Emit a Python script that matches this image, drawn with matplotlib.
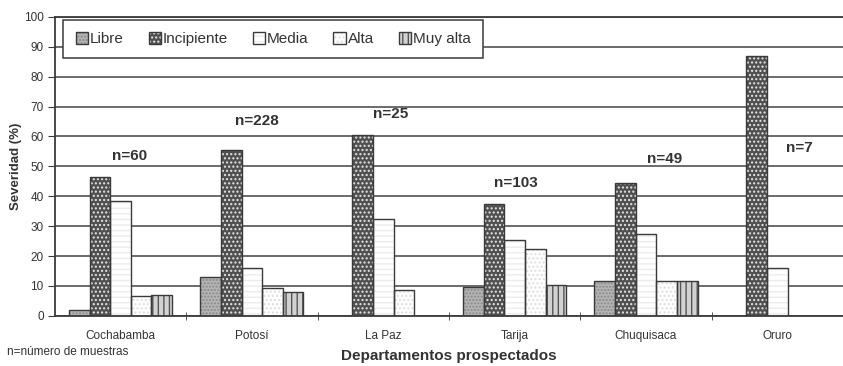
import matplotlib
matplotlib.use("Agg")
import matplotlib.pyplot as plt
import matplotlib.patches as mpatches
from matplotlib.legend_handler import HandlerPatch
import numpy as np

plt.rcParams['font.family'] = ['Liberation Sans', 'DejaVu Sans']

departamentos = ['Cochabamba', 'Potosí', 'La Paz', 'Tarija', 'Chuquisaca', 'Oruro']
series = ['Libre', 'Incipiente', 'Media', 'Alta', 'Muy alta']

libre = [2, 13, 0, 9.5, 11.8, 0]
incipiente = [46.5, 55.3, 60.5, 37.5, 44.3, 87]
media = [38.3, 16, 32.3, 25.3, 27.5, 16]
alta = [6.7, 9.2, 8.7, 22.5, 11.8, 0]
muy_alta = [6.9, 8, 0, 10.2, 11.8, 0]

muestras = [60, 228, 25, 103, 49, 7]
muestras_y = [53.5, 65, 67.5, 44.5, 52.5, 56]
muestras_dx = [0.07, 0.04, 0.06, 0.01, 0.14, 0.17]

valores = [libre, incipiente, media, alta, muy_alta]
# facecolor, hatch, hatch colour for each severity class
estilos = [
    ('#b4b4b4', '.....', '#8a8a8a'),
    ('#505050', '....', '#e6e6e6'),
    ('#ffffff', '---', '#ececec'),
    ('#ffffff', '....', '#dedede'),
    ('#d2d2d2', '|||', '#555555'),
]
linea = '#3a3a3a'
texto = '#333333'


class OutlinedHandler(HandlerPatch):
    # hatched square plus a dark outline, like the bars
    def create_artists(self, legend, orig_handle, xdescent, ydescent, width, height, fontsize, trans):
        p = mpatches.Rectangle((-xdescent, -ydescent), width, height,
                               facecolor=orig_handle.get_facecolor(),
                               edgecolor=orig_handle.get_edgecolor(),
                               hatch=orig_handle.get_hatch(), linewidth=0, transform=trans)
        o = mpatches.Rectangle((-xdescent, -ydescent), width, height, fill=False,
                               edgecolor=linea, linewidth=1.0, transform=trans)
        return [p, o]


fig = plt.figure(figsize=(8.43, 3.66), dpi=100)
ax = fig.add_axes([0.065, 0.137, 0.935, 0.817])

x = np.arange(len(departamentos))
width = 0.157
handles = []
for k, (vals, (fc, hatch, hc)) in enumerate(zip(valores, estilos)):
    pos = x + (k - 2) * width
    ax.bar(pos, vals, width, color=fc, edgecolor=hc, hatch=hatch, linewidth=0, zorder=2)
    ax.bar(pos, vals, width, fill=False, edgecolor=linea, linewidth=1.0, zorder=3)
    handles.append(mpatches.Rectangle((0, 0), 1, 1, facecolor=fc, edgecolor=hc, hatch=hatch, linewidth=0))

for i, (n, yv, dx) in enumerate(zip(muestras, muestras_y, muestras_dx)):
    ax.text(x[i] + dx, yv, 'n={}'.format(n), ha='center', va='center',
            fontsize=11, fontweight='bold', color=texto, zorder=4)

ax.set_xlim(-0.5, len(departamentos) - 0.5)
ax.set_ylim(0, 100)
ax.set_yticks(np.arange(0, 101, 10))
ax.set_xticks(x)
ax.set_xticklabels(departamentos, fontsize=8.5, color=texto)
ax.set_xticks(np.arange(0.5, len(departamentos) - 0.5), minor=True)
ax.tick_params(axis='x', which='major', length=0, pad=10)
ax.tick_params(axis='x', which='minor', length=6, direction='inout', color=linea)
ax.tick_params(axis='y', length=5, direction='out', color=linea, labelsize=8.5,
               labelcolor=texto, pad=3)
ax.yaxis.grid(True, color='#444444', linewidth=1.1, zorder=0)
ax.set_axisbelow(True)

for side in ['left', 'bottom', 'top']:
    ax.spines[side].set_color(linea)
    ax.spines[side].set_linewidth(1.3)
ax.spines['right'].set_visible(False)

ax.set_ylabel('Severidad (%)', fontsize=9.5, fontweight='bold', color=texto, labelpad=1)
ax.set_xlabel('Departamentos prospectados', fontsize=11, fontweight='bold', color=texto,
              labelpad=5)

leg = ax.legend(handles, series, loc='upper left', bbox_to_anchor=(0.011, 0.99),
                borderaxespad=0, ncol=5, fontsize=11, handlelength=0.8, handleheight=0.8,
                handletextpad=0.15, columnspacing=1.6, fancybox=False, framealpha=1,
                edgecolor=linea, borderpad=0.8,
                handler_map={mpatches.Rectangle: OutlinedHandler()})
leg.get_frame().set_linewidth(1.1)
for t in leg.get_texts():
    t.set_color(texto)

fig.text(0.008, 0.03, 'n=número de muestras', fontsize=8.5, color=texto)

fig.savefig('out.png', dpi=100)
